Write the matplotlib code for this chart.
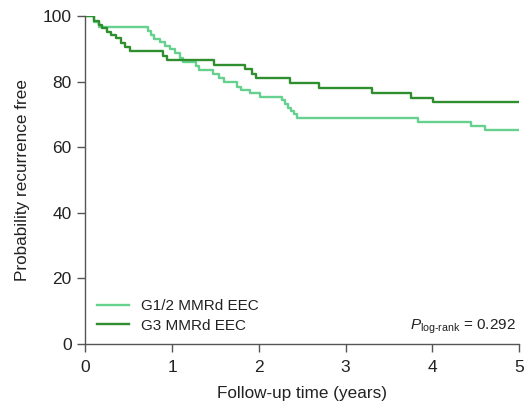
import matplotlib
matplotlib.use("Agg")
import matplotlib.pyplot as plt

plt.rcParams["font.family"] = ["Liberation Sans", "DejaVu Sans"]
plt.rcParams["mathtext.fontset"] = "custom"
plt.rcParams["mathtext.rm"] = "Liberation Sans"
plt.rcParams["mathtext.it"] = "Liberation Sans:italic"

# Kaplan-Meier estimates (recurrence-free, %) at each event time (years)
g12_label = "G1/2 MMRd EEC"
g12_time = [0, 0.10, 0.16, 0.72, 0.76, 0.79, 0.86, 0.92, 0.97, 1.03, 1.09, 1.13,
            1.27, 1.31, 1.47, 1.54, 1.60, 1.75, 1.79, 1.90, 2.01, 2.27, 2.30,
            2.34, 2.37, 2.40, 2.44, 3.84, 4.45, 4.61, 5.0]
g12_surv = [100, 98.3, 96.6, 95.3, 94.2, 93.1, 92.0, 90.9, 89.8, 88.6, 87.3, 86.1,
            84.8, 83.5, 82.2, 81.0, 79.8, 78.5, 77.4, 76.6, 75.4, 74.3, 73.2,
            72.1, 71.1, 70.1, 69.0, 67.8, 66.5, 65.2, 65.2]

g3_label = "G3 MMRd EEC"
g3_time = [0, 0.10, 0.16, 0.19, 0.25, 0.29, 0.35, 0.41, 0.46, 0.52, 0.89, 0.94,
           1.48, 1.84, 1.92, 1.97, 2.36, 2.69, 3.31, 3.75, 4.01, 5.0]
g3_surv = [100, 98.6, 97.3, 96.2, 95.2, 94.2, 93.2, 91.9, 90.7, 89.3, 87.9, 86.6,
           85.1, 83.7, 82.3, 81.0, 79.6, 78.2, 76.6, 75.1, 73.7, 73.7]

p_logrank = "0.292"
x_ticks = [0, 1, 2, 3, 4, 5]
y_ticks = [0, 20, 40, 60, 80, 100]

light_green = "#66D18E"
dark_green = "#2F8F2F"
axis_gray = "#555555"
text_color = "#222222"

fig = plt.figure(figsize=(5.27, 4.11), dpi=100)
ax = fig.add_axes([0.162, 0.163, 0.823, 0.798])

ax.step(g12_time, g12_surv, where="post", color=light_green, lw=1.7, label=g12_label)
ax.step(g3_time, g3_surv, where="post", color=dark_green, lw=1.7, label=g3_label)

ax.set_xlim(0, 5)
ax.set_ylim(0, 100)
ax.set_xticks(x_ticks)
ax.set_yticks(y_ticks)
ax.margins(0)

for side in ("top", "right"):
    ax.spines[side].set_visible(False)
for side in ("left", "bottom"):
    ax.spines[side].set_color(axis_gray)
    ax.spines[side].set_linewidth(1.0)
ax.tick_params(direction="out", length=5.8, width=1.0, color=axis_gray,
               labelsize=12.5, labelcolor=text_color)
ax.tick_params(axis="x", pad=5.5)
ax.tick_params(axis="y", pad=4)

ax.set_xlabel("Follow-up time (years)", fontsize=12.3, color=text_color, labelpad=8)
ax.set_ylabel("Probability recurrence free", fontsize=12.3, color=text_color, labelpad=9)

leg = ax.legend(loc="lower left", bbox_to_anchor=(0.027, 0.035), frameon=False,
                fontsize=11, handlelength=2.1, handletextpad=0.8,
                borderpad=0, borderaxespad=0, labelspacing=0.35)
for txt in leg.get_texts():
    txt.set_color(text_color)

ax.text(0.993, 0.043, r"$P_{\mathrm{log}\text{-}\mathrm{rank}}$ = " + p_logrank,
        transform=ax.transAxes, ha="right", va="baseline", fontsize=11,
        color=text_color)

fig.savefig("out.png", dpi=100)
